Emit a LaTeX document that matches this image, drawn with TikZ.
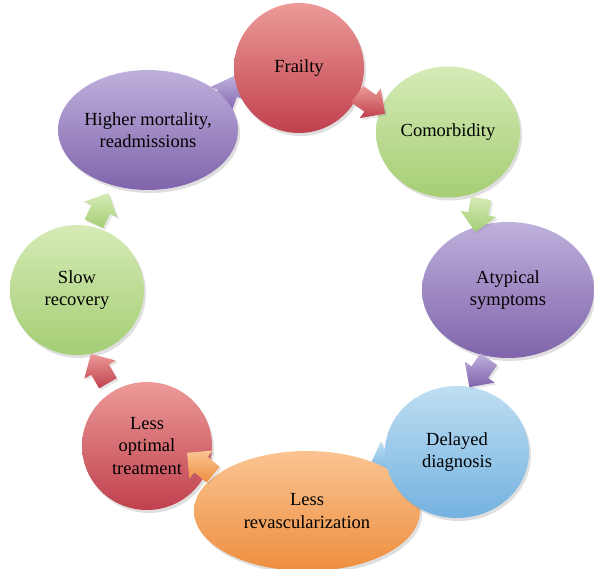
\documentclass[tikz,border=0pt]{standalone}
\usepackage{fontspec}
\setmainfont{Liberation Serif}
\usetikzlibrary{shapes.geometric,shapes.arrows,shadows}

\definecolor{rougeH}{RGB}{236,154,152}
\definecolor{rougeB}{RGB}{192,64,78}
\definecolor{vertH}{RGB}{214,234,182}
\definecolor{vertB}{RGB}{164,206,116}
\definecolor{violetH}{RGB}{190,176,220}
\definecolor{violetB}{RGB}{128,100,172}
\definecolor{bleuH}{RGB}{190,222,242}
\definecolor{bleuB}{RGB}{116,178,224}
\definecolor{orangeH}{RGB}{250,196,146}
\definecolor{orangeB}{RGB}{238,142,62}

\begin{document}
\begin{tikzpicture}[x=1pt, y=-1pt,
	bulle/.style={ellipse, inner sep=0, align=center,
		font=\fontsize{18.5}{22.5}\selectfont,
		drop shadow={opacity=0.25, shadow xshift=2pt, shadow yshift=-3pt}},
	rouge/.style={top color=rougeH, bottom color=rougeB},
	vert/.style={top color=vertH, bottom color=vertB},
	violet/.style={top color=violetH, bottom color=violetB},
	bleu/.style={top color=bleuH, bottom color=bleuB},
	orange/.style={top color=orangeH, bottom color=orangeB},
	fleche/.style={single arrow, minimum height=34pt, minimum width=34pt,
		inner sep=10pt, single arrow head extend=8pt,
		drop shadow={opacity=0.2, shadow xshift=2pt, shadow yshift=-2pt}}]
	\useasboundingbox (0,0) rectangle (594,569);

	% fleches cachees en partie
	\node[fleche, bleu, rotate=200] (f4) at (391,457) {};
	\node[fleche, violet, rotate=70] (f8) at (226,97) {};

	% etapes
	\node[bulle, rouge, minimum width=130pt, minimum height=130pt] (frail) at (299,68) {Frailty};
	\node[bulle, vert, minimum width=144pt, minimum height=131pt] (comor) at (448,132) {Comorbidity};
	\node[bulle, violet, minimum width=172pt, minimum height=136pt] (atyp) at (508,290) {Atypical\\symptoms};
	\node[bulle, orange, minimum width=226pt, minimum height=120pt] (revasc) at (307,511) {Less\\revascularization};
	\node[bulle, bleu, minimum width=144pt, minimum height=132pt] (diag) at (457,452) {Delayed\\diagnosis};
	\node[bulle, rouge, minimum width=130pt, minimum height=128pt] (trait) at (147,446) {Less\\optimal\\treatment};
	\node[bulle, vert, minimum width=134pt, minimum height=130pt] (recov) at (77,290) {Slow\\recovery};
	\node[bulle, violet, minimum width=156pt, minimum height=120pt] (mort) at (148,130) {Higher mortality,\\readmissions};

	% fleches
	\node[fleche, rouge, rotate=-35] (f1) at (367,101) {};
	\node[fleche, vert, rotate=-100] (f2) at (479,210) {};
	\node[fleche, violet, rotate=-125] (f3) at (482,369) {};
	\node[fleche, orange, rotate=140] (f5) at (204,467) {};
	\node[fleche, rouge, rotate=120] (f6) at (102,373) {};
	\node[fleche, vert, rotate=65] (f7) at (99,213) {};

\end{tikzpicture}
\end{document}
